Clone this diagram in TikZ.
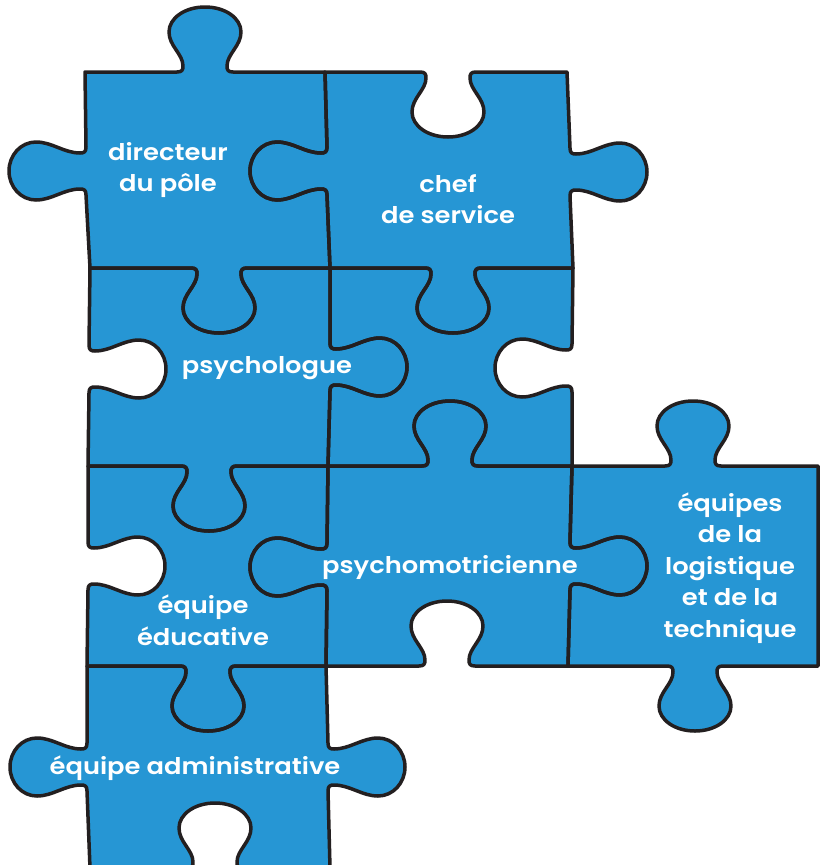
\documentclass[tikz,border=0pt]{standalone}
\usepackage{fontspec}
\newfontfamily\lblfont{Poppins SemiBold}[FakeStretch=1.12]
\definecolor{pblue}{RGB}{38,150,212}
\definecolor{pline}{RGB}{35,31,32}
% knob on a horizontal edge: #1 centre x, #2 edge y, #3 bulge (+1 down,-1 up), #4 travel (+1 right,-1 left)
\newcommand\KH[4]{%
 -- ({#1+(#4)*(-28)},{#2})
 .. controls ({#1+(#4)*(-23)},{#2}) and ({#1+(#4)*(-22)},{#2+(#3)*2}) .. ({#1+(#4)*(-22)},{#2+(#3)*6})
 .. controls ({#1+(#4)*(-22)},{#2+(#3)*18}) and ({#1+(#4)*(-36)},{#2+(#3)*26}) .. ({#1+(#4)*(-36)},{#2+(#3)*40})
 .. controls ({#1+(#4)*(-36)},{#2+(#3)*54}) and ({#1+(#4)*(-20)},{#2+(#3)*65}) .. ({#1},{#2+(#3)*65})
 .. controls ({#1+(#4)*20},{#2+(#3)*65}) and ({#1+(#4)*36},{#2+(#3)*54}) .. ({#1+(#4)*36},{#2+(#3)*40})
 .. controls ({#1+(#4)*36},{#2+(#3)*26}) and ({#1+(#4)*22},{#2+(#3)*18}) .. ({#1+(#4)*22},{#2+(#3)*6})
 .. controls ({#1+(#4)*22},{#2+(#3)*2}) and ({#1+(#4)*23},{#2}) .. ({#1+(#4)*28},{#2})}
% knob on a vertical edge: #1 edge x, #2 centre y, #3 bulge (+1 right,-1 left), #4 travel (+1 down,-1 up)
\newcommand\KV[4]{%
 -- ({#1},{#2+(#4)*(-24)})
 .. controls ({#1},{#2+(#4)*(-19)}) and ({#1+(#3)*2},{#2+(#4)*(-18)}) .. ({#1+(#3)*6},{#2+(#4)*(-18)})
 .. controls ({#1+(#3)*22},{#2+(#4)*(-18)}) and ({#1+(#3)*34},{#2+(#4)*(-29)}) .. ({#1+(#3)*50},{#2+(#4)*(-29)})
 .. controls ({#1+(#3)*65},{#2+(#4)*(-29)}) and ({#1+(#3)*77},{#2+(#4)*(-16)}) .. ({#1+(#3)*77},{#2})
 .. controls ({#1+(#3)*77},{#2+(#4)*16}) and ({#1+(#3)*65},{#2+(#4)*29}) .. ({#1+(#3)*50},{#2+(#4)*29})
 .. controls ({#1+(#3)*34},{#2+(#4)*29}) and ({#1+(#3)*22},{#2+(#4)*18}) .. ({#1+(#3)*6},{#2+(#4)*18})
 .. controls ({#1+(#3)*2},{#2+(#4)*18}) and ({#1},{#2+(#4)*19}) .. ({#1},{#2+(#4)*24})}
\newcommand\PA{(85,72) \KH{205}{72}{-1}{1} -- (325,72) \KV{327}{171}{-1}{1} -- (330,268) \KH{219}{268}{1}{-1} -- (90,268) \KV{86}{171}{-1}{-1} -- cycle}
\newcommand\PB{(325,72) \KH{448}{72}{1}{1} -- (567,72) \KV{570}{172}{1}{1} -- (573,268) \KH{453}{268}{1}{-1} -- (330,268) \KV{327}{171}{-1}{-1} -- cycle}
\newcommand\PC{(90,268) \KH{219}{268}{1}{1} -- (330,268) \KV{330}{367}{1}{1} -- (328,466) \KH{209}{466}{1}{-1} -- (88,466) \KV{89}{369}{1}{-1} -- cycle}
\newcommand\PD{(330,268) \KH{453}{268}{1}{1} -- (573,268) \KV{572}{368}{-1}{1} -- (572,466) \KH{450}{466}{-1}{-1} -- (328,466) \KV{330}{367}{1}{-1} -- cycle}
\newcommand\PE{(88,466) \KH{209}{466}{1}{1} -- (328,466) \KV{327}{567}{-1}{1} -- (326,666) \KH{208}{666}{1}{-1} -- (87,666) \KV{88}{566}{1}{-1} -- cycle}
\newcommand\PF{(328,466) \KH{450}{466}{-1}{1} -- (572,466) \KV{570}{566}{1}{1} -- (568,666) \KH{447}{666}{-1}{-1} -- (326,666) \KV{327}{567}{-1}{-1} -- cycle}
\newcommand\PG{(572,466) \KH{693}{466}{-1}{1} -- (818,466) -- (818,666) \KH{695}{666}{1}{-1} -- (568,666) \KV{570}{566}{1}{-1} -- cycle}
\newcommand\PH{(87,666) \KH{208}{666}{1}{1} -- (326,666) \KV{328}{767}{1}{1} -- (330,868) \KH{215}{868}{-1}{-1} -- (90,868) \KV{87}{767}{-1}{-1} -- cycle}
\begin{document}
\begin{tikzpicture}[x=1pt,y=-1pt,
  piecefill/.style={fill=pblue},
  pieceline/.style={draw=pline,line width=3.5pt,line join=round},
  lbl/.style={text=white,align=center,inner sep=0pt,font=\lblfont\fontsize{23}{31.5}\selectfont}]
\useasboundingbox (0,0) rectangle (823,865);
\clip (0,0) rectangle (823,865);
\fill[white] (0,0) rectangle (823,865);
\path[piecefill] \PA;
\path[piecefill] \PB;
\path[piecefill] \PC;
\path[piecefill] \PD;
\path[piecefill] \PE;
\path[piecefill] \PF;
\path[piecefill] \PG;
\path[piecefill] \PH;
\path[pieceline] \PA;
\path[pieceline] \PB;
\path[pieceline] \PC;
\path[pieceline] \PD;
\path[pieceline] \PE;
\path[pieceline] \PF;
\path[pieceline] \PG;
\path[pieceline] \PH;
\node[lbl] (dir) at (168,170) {directeur\\du pôle};
\node[lbl] (chef) at (448,199) {chef\\de service};
\node[lbl] (psy) at (267,368) {psychologue};
\node[lbl] (psym) at (450,568) {psychomotricienne};
\node[lbl] (edu) at (203,620) {équipe\\éducative};
\node[lbl] (log) at (730,568) {équipes\\de la\\logistique\\et de la\\technique};
\node[lbl] (adm) at (195,768) {équipe administrative};
\end{tikzpicture}
\end{document}
